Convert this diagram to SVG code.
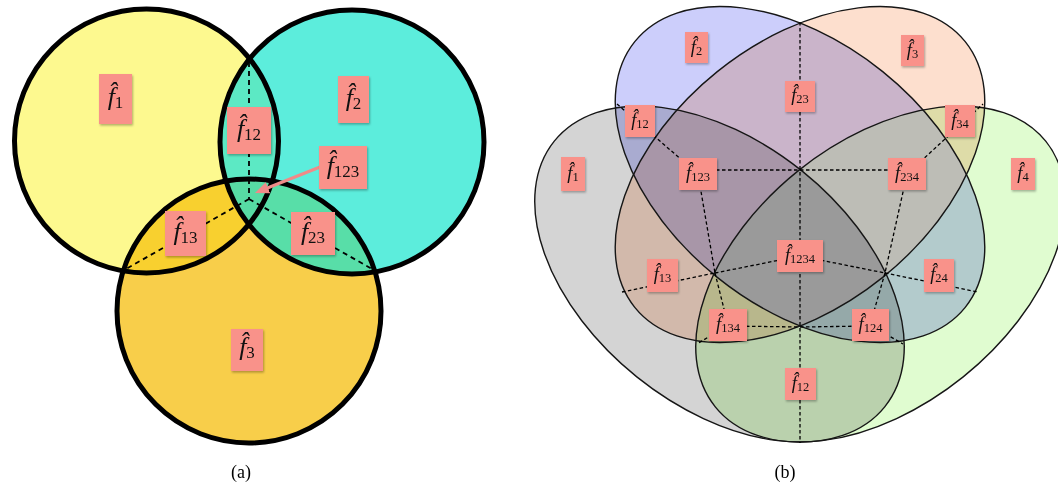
<svg xmlns="http://www.w3.org/2000/svg" width="1058" height="489" viewBox="0 0 1058 489">
<style>
.ring{fill:none;stroke:#000;stroke-width:5}
.box{fill:#F9928A;filter:url(#sh)}
.ta{font-family:"Liberation Serif",serif;font-size:26px;text-anchor:middle;fill:#111}
.tb{font-family:"Liberation Serif",serif;font-size:18.5px;text-anchor:middle;fill:#111}
.it{font-style:italic}
.sa{font-size:17px}
.sb{font-size:12.5px}
.da{fill:none;stroke:#000;stroke-width:1.8;stroke-dasharray:5 4}
.db{fill:none;stroke:#000;stroke-width:1.3;stroke-dasharray:3.5 2.5}
.el{stroke:none;mix-blend-mode:multiply}
.eo{fill:none;stroke:#161616;stroke-width:1.4}
.cap{font-family:"Liberation Serif",serif;font-size:18px;text-anchor:middle;fill:#000}
</style>
<defs>
<filter id="sh" x="-20%" y="-20%" width="150%" height="150%"><feDropShadow dx="1" dy="1.5" stdDeviation="1" flood-color="#000" flood-opacity="0.3"/></filter>
<clipPath id="k1"><circle cx="146.5" cy="141" r="132"/></clipPath>
<clipPath id="k2"><circle cx="352" cy="142" r="132"/></clipPath>
<clipPath id="cB"><ellipse cx="800" cy="174.5" rx="212" ry="132" transform="rotate(38.8 800 174.5)"/></clipPath>
<clipPath id="cO"><ellipse cx="800" cy="174.5" rx="212" ry="132" transform="rotate(-38.8 800 174.5)"/></clipPath>
<clipPath id="cG"><ellipse cx="880.5" cy="274" rx="212" ry="132" transform="rotate(-38.8 880.5 274)"/></clipPath>
<marker id="ah" markerUnits="userSpaceOnUse" markerWidth="14" markerHeight="12" viewBox="0 0 14 12" refX="6" refY="6" orient="auto"><path d="M0,0 L14,6 L0,12 z" fill="#F08A88"/></marker>
</defs>

<!-- (a) three-circle Venn -->
<g id="venn-a">
<circle cx="146.5" cy="141" r="132" fill="#FDF98F"/>
<circle cx="352" cy="142" r="132" fill="#5CEDDC"/>
<circle cx="249" cy="311" r="132" fill="#F8CE4A"/>
<circle cx="352" cy="142" r="132" fill="#5CE9C4" clip-path="url(#k1)"/>
<circle cx="249" cy="311" r="132" fill="#F8D02F" clip-path="url(#k1)"/>
<circle cx="249" cy="311" r="132" fill="#58DEA8" clip-path="url(#k2)"/>
<g clip-path="url(#k1)"><circle cx="249" cy="311" r="132" fill="#57DBA4" clip-path="url(#k2)"/></g>
<circle class="ring" cx="146.5" cy="141" r="132"/>
<circle class="ring" cx="352" cy="142" r="132"/>
<circle class="ring" cx="249" cy="311" r="132"/>
</g>

<!-- (b) four-ellipse Venn -->
<g id="venn-b">
<g id="b-fills">
<ellipse class="el" cx="880.5" cy="274" rx="212" ry="132" transform="rotate(-38.8 880.5 274)" fill="#E0FCD0"/>
<ellipse class="el" cx="800" cy="174.5" rx="212" ry="132" transform="rotate(-38.8 800 174.5)" fill="#FDDFCE"/>
<ellipse class="el" cx="800" cy="174.5" rx="212" ry="132" transform="rotate(38.8 800 174.5)" fill="#CCCEFB"/>
<ellipse class="el" cx="719.5" cy="274" rx="212" ry="132" transform="rotate(38.8 719.5 274)" fill="#D4D4D4"/>
</g>
<g clip-path="url(#cB)"><g clip-path="url(#cO)"><g clip-path="url(#cG)">
<rect x="600" y="0" width="458" height="489" fill="#BDBDB6"/>
<ellipse cx="719.5" cy="274" rx="212" ry="132" transform="rotate(38.8 719.5 274)" fill="#9A9A9A"/>
</g></g></g>
<g id="b-outlines">
<ellipse class="eo" cx="880.5" cy="274" rx="212" ry="132" transform="rotate(-38.8 880.5 274)"/>
<ellipse class="eo" cx="800" cy="174.5" rx="212" ry="132" transform="rotate(-38.8 800 174.5)"/>
<ellipse class="eo" cx="800" cy="174.5" rx="212" ry="132" transform="rotate(38.8 800 174.5)"/>
<ellipse class="eo" cx="719.5" cy="274" rx="212" ry="132" transform="rotate(38.8 719.5 274)"/>
</g>
</g>

<g id="connectors">
<path class="da" d="M249,62 L249,199 M249,199 L126,269 M249,199 L372,269"/>
<line x1="320" y1="167" x2="262.4" y2="190" stroke="#F08A88" stroke-width="3" marker-end="url(#ah)"/>
<path class="db" d="M800,22 L800,443 M617,104 L698,174 M698,170 L907,170 M698,174 L715,273 M907,174 L885,273 M907,174 L983,104 M715,273 L800,256 L885,273 M622,292 L715,273 M885,273 L978,292 M715,273 L728,325 L697,344 M728,326 L800,327 L870,326 M885,273 L870,325 L903,344"/>
</g>

<!-- labels (a) -->
<g id="a-f1"><rect class="box" x="99" y="74" width="33" height="50"/><text class="ta" x="115.5" y="105"><tspan class="it">f̂</tspan><tspan class="sa" dy="3">1</tspan></text></g>
<g id="a-f2"><rect class="box" x="338" y="76" width="31" height="47"/><text class="ta" x="353.5" y="106"><tspan class="it">f̂</tspan><tspan class="sa" dy="3">2</tspan></text></g>
<g id="a-f12"><rect class="box" x="227" y="107" width="44" height="47"/><text class="ta" x="249" y="137"><tspan class="it">f̂</tspan><tspan class="sa" dy="3">12</tspan></text></g>
<g id="a-f123"><rect class="box" x="319" y="146" width="48" height="43"/><text class="ta" x="343" y="173.5"><tspan class="it">f̂</tspan><tspan class="sa" dy="3">123</tspan></text></g>
<g id="a-f13"><rect class="box" x="165" y="211" width="41" height="45"/><text class="ta" x="185.5" y="239.5"><tspan class="it">f̂</tspan><tspan class="sa" dy="3">13</tspan></text></g>
<g id="a-f23"><rect class="box" x="291" y="212" width="44" height="43"/><text class="ta" x="313" y="239.5"><tspan class="it">f̂</tspan><tspan class="sa" dy="3">23</tspan></text></g>
<g id="a-f3"><rect class="box" x="231" y="329" width="32" height="42"/><text class="ta" x="247" y="355"><tspan class="it">f̂</tspan><tspan class="sa" dy="3">3</tspan></text></g>

<!-- labels (b) -->
<g id="b-f2"><rect class="box" x="685" y="32" width="23" height="31"/><text class="tb" x="696.5" y="52.5"><tspan class="it">f̂</tspan><tspan class="sb" dy="2">2</tspan></text></g>
<g id="b-f3"><rect class="box" x="901" y="35" width="23" height="31"/><text class="tb" x="912.5" y="55.5"><tspan class="it">f̂</tspan><tspan class="sb" dy="2">3</tspan></text></g>
<g id="b-f23"><rect class="box" x="785" y="81" width="30" height="31"/><text class="tb" x="800" y="101"><tspan class="it">f̂</tspan><tspan class="sb" dy="2">23</tspan></text></g>
<g id="b-f12a"><rect class="box" x="625" y="105" width="30" height="32"/><text class="tb" x="640" y="125.5"><tspan class="it">f̂</tspan><tspan class="sb" dy="2">12</tspan></text></g>
<g id="b-f34"><rect class="box" x="945" y="105" width="30" height="32"/><text class="tb" x="960" y="125.5"><tspan class="it">f̂</tspan><tspan class="sb" dy="2">34</tspan></text></g>
<g id="b-f1"><rect class="box" x="561" y="157" width="24" height="34"/><text class="tb" x="573" y="178.5"><tspan class="it">f̂</tspan><tspan class="sb" dy="2">1</tspan></text></g>
<g id="b-f123"><rect class="box" x="679" y="158" width="38" height="32"/><text class="tb" x="698" y="178.5"><tspan class="it">f̂</tspan><tspan class="sb" dy="2">123</tspan></text></g>
<g id="b-f234"><rect class="box" x="888" y="158" width="38" height="32"/><text class="tb" x="907" y="178.5"><tspan class="it">f̂</tspan><tspan class="sb" dy="2">234</tspan></text></g>
<g id="b-f4"><rect class="box" x="1011" y="158" width="24" height="32"/><text class="tb" x="1023" y="178.5"><tspan class="it">f̂</tspan><tspan class="sb" dy="2">4</tspan></text></g>
<g id="b-f1234"><rect class="box" x="777" y="240" width="46" height="32"/><text class="tb" x="800" y="260.5"><tspan class="it">f̂</tspan><tspan class="sb" dy="2">1234</tspan></text></g>
<g id="b-f13"><rect class="box" x="647" y="259" width="31" height="33"/><text class="tb" x="662.5" y="280"><tspan class="it">f̂</tspan><tspan class="sb" dy="2">13</tspan></text></g>
<g id="b-f24"><rect class="box" x="924" y="259" width="30" height="33"/><text class="tb" x="939" y="280"><tspan class="it">f̂</tspan><tspan class="sb" dy="2">24</tspan></text></g>
<g id="b-f134"><rect class="box" x="709" y="309" width="38" height="32"/><text class="tb" x="728" y="329.5"><tspan class="it">f̂</tspan><tspan class="sb" dy="2">134</tspan></text></g>
<g id="b-f124"><rect class="box" x="852" y="309" width="37" height="32"/><text class="tb" x="870.5" y="329.5"><tspan class="it">f̂</tspan><tspan class="sb" dy="2">124</tspan></text></g>
<g id="b-f12b"><rect class="box" x="785" y="368" width="31" height="32"/><text class="tb" x="800.5" y="388.5"><tspan class="it">f̂</tspan><tspan class="sb" dy="2">12</tspan></text></g>

<text class="cap" x="241" y="478">(a)</text>
<text class="cap" x="785" y="478">(b)</text>
</svg>
